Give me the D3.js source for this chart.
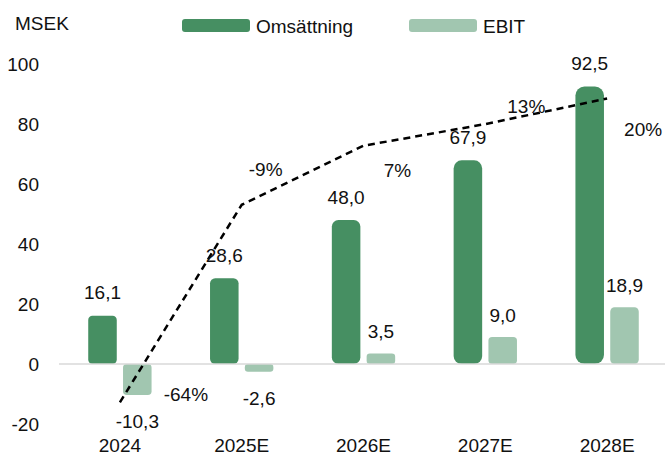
<!DOCTYPE html>
<html>
<head>
<meta charset="utf-8">
<script src="https://cdn.jsdelivr.net/npm/d3@7"></script>
<style>
  body { margin: 0; background: #fff; }
  svg text { font-family: "Liberation Sans", Arial, sans-serif; fill: #111; }
</style>
</head>
<body>
<svg id="chart"></svg>
<script>
// Chart data
const years = ["2024", "2025E", "2026E", "2027E", "2028E"];
const revenue = [16.1, 28.6, 48.0, 67.9, 92.5];
const ebit = [-10.3, -2.6, 3.5, 9.0, 18.9];
const margin = [-0.64, -0.091, 0.073, 0.133, 0.204];
const marginLabels = ["-64%", "-9%", "7%", "13%", "20%"];
const yTicks = [-20, 0, 20, 40, 60, 80, 100];
const seriesNames = ["Omsättning", "EBIT"];

// Excel-style label placement for the margin labels (dx, dy from the line point)
const marginLabelOffsets = [[66, -8], [24, -35], [34, 25], [41, -18], [36, 31]];

const colors = { revenue: "#468f62", ebit: "#a1c6b0" };

const W = 665, H = 461;
const plot = { left: 59, right: 668, top: 64, bottom: 424 };
const fontSize = 19;

const svg = d3.select("#chart").attr("width", W).attr("height", H);

const x = d3.scaleBand().domain(years).range([plot.left, plot.right]).padding(0);
const inner = d3.scaleBand()
  .domain(["rev", "ebit"])
  .range([-x.bandwidth() * 0.26, x.bandwidth() * 0.26])
  .paddingInner(0.18);

const y = d3.scaleLinear().domain([-20, 100]).range([plot.bottom, plot.top]);
// hidden secondary axis for EBIT margin
const y2 = d3.scaleLinear().domain([-0.7, 0.3]).range([plot.bottom, plot.top]);

const cx = (i) => x(years[i]) + x.bandwidth() / 2;

// Y axis labels (no line, no ticks)
const yAxis = d3.axisLeft(y).tickValues(yTicks).tickFormat((d) => String(d)).tickSize(0).tickPadding(0);
const yAxisG = svg.append("g").attr("transform", `translate(39,0)`).call(yAxis);
yAxisG.select(".domain").remove();
yAxisG.selectAll("text")
  .attr("font-size", fontSize)
  .attr("font-family", "Liberation Sans, Arial, sans-serif")
  .attr("fill", "#111")
  .attr("dy", "0.35em");

// X axis labels
const xAxis = d3.axisBottom(x).tickSize(0).tickPadding(0);
const xAxisG = svg.append("g").attr("transform", `translate(0,438)`).call(xAxis);
xAxisG.select(".domain").remove();
xAxisG.selectAll("text")
  .attr("font-size", fontSize)
  .attr("font-family", "Liberation Sans, Arial, sans-serif")
  .attr("fill", "#111")
  .attr("dy", "0.71em");

// Rounded bar helper
function barRadius(h) {
  return Math.min(9, 3 + h / 40, h / 2);
}

const bars = svg.append("g");

// Revenue bars
bars.selectAll(".rev")
  .data(revenue)
  .join("rect")
  .attr("class", "rev")
  .attr("x", (d, i) => cx(i) + inner("rev"))
  .attr("y", (d) => y(Math.max(0, d)))
  .attr("width", inner.bandwidth())
  .attr("height", (d) => Math.abs(y(d) - y(0)))
  .attr("rx", (d) => barRadius(Math.abs(y(d) - y(0))))
  .attr("fill", colors.revenue);

// EBIT bars
bars.selectAll(".ebit")
  .data(ebit)
  .join("rect")
  .attr("class", "ebit")
  .attr("x", (d, i) => cx(i) + inner("ebit"))
  .attr("y", (d) => y(Math.max(0, d)))
  .attr("width", inner.bandwidth())
  .attr("height", (d) => Math.abs(y(d) - y(0)))
  .attr("rx", (d) => barRadius(Math.abs(y(d) - y(0))))
  .attr("fill", colors.ebit);

// Zero line
svg.append("line")
  .attr("x1", plot.left)
  .attr("x2", W)
  .attr("y1", y(0))
  .attr("y2", y(0))
  .attr("stroke", "#d9d9d9")
  .attr("stroke-width", 1.5);

// EBIT margin dashed line
const line = d3.line()
  .x((d, i) => cx(i))
  .y((d) => y2(d));

svg.append("path")
  .datum(margin)
  .attr("d", line)
  .attr("fill", "none")
  .attr("stroke", "#000")
  .attr("stroke-width", 2.5)
  .attr("stroke-dasharray", "7,5");

const fmt = (v) => d3.format(".1f")(v).replace(".", ",").replace("−", "-");

// Value labels
const labels = svg.append("g").attr("font-size", fontSize).attr("text-anchor", "middle");

labels.selectAll(".rev-label")
  .data(revenue)
  .join("text")
  .attr("x", (d, i) => cx(i) + inner("rev") + inner.bandwidth() / 2)
  .attr("y", (d) => y(d) - 23)
  .attr("dy", "0.35em")
  .text(fmt);

labels.selectAll(".ebit-label")
  .data(ebit)
  .join("text")
  .attr("x", (d, i) => cx(i) + inner("ebit") + inner.bandwidth() / 2)
  .attr("y", (d) => (d < 0 ? y(d) + 26.5 : y(d) - 22))
  .attr("dy", "0.35em")
  .text(fmt);

labels.selectAll(".margin-label")
  .data(margin)
  .join("text")
  .attr("x", (d, i) => cx(i) + marginLabelOffsets[i][0])
  .attr("y", (d, i) => y2(d) + marginLabelOffsets[i][1])
  .attr("dy", "0.35em")
  .text((d, i) => marginLabels[i]);

// Unit label
svg.append("text")
  .attr("x", 15)
  .attr("y", 23)
  .attr("dy", "0.35em")
  .attr("font-size", fontSize)
  .text("MSEK");

// Legend
const legend = svg.append("g");
const legendItems = [
  { name: seriesNames[0], color: colors.revenue, x: 182, w: 68 },
  { name: seriesNames[1], color: colors.ebit, x: 409, w: 68 },
];
legendItems.forEach((d) => {
  legend.append("rect")
    .attr("x", d.x)
    .attr("y", 19)
    .attr("width", d.w)
    .attr("height", 13)
    .attr("rx", 3)
    .attr("fill", d.color);
  legend.append("text")
    .attr("x", d.x + d.w + 6)
    .attr("y", 26)
    .attr("dy", "0.35em")
    .attr("font-size", fontSize)
    .text(d.name);
});
</script>
</body>
</html>
